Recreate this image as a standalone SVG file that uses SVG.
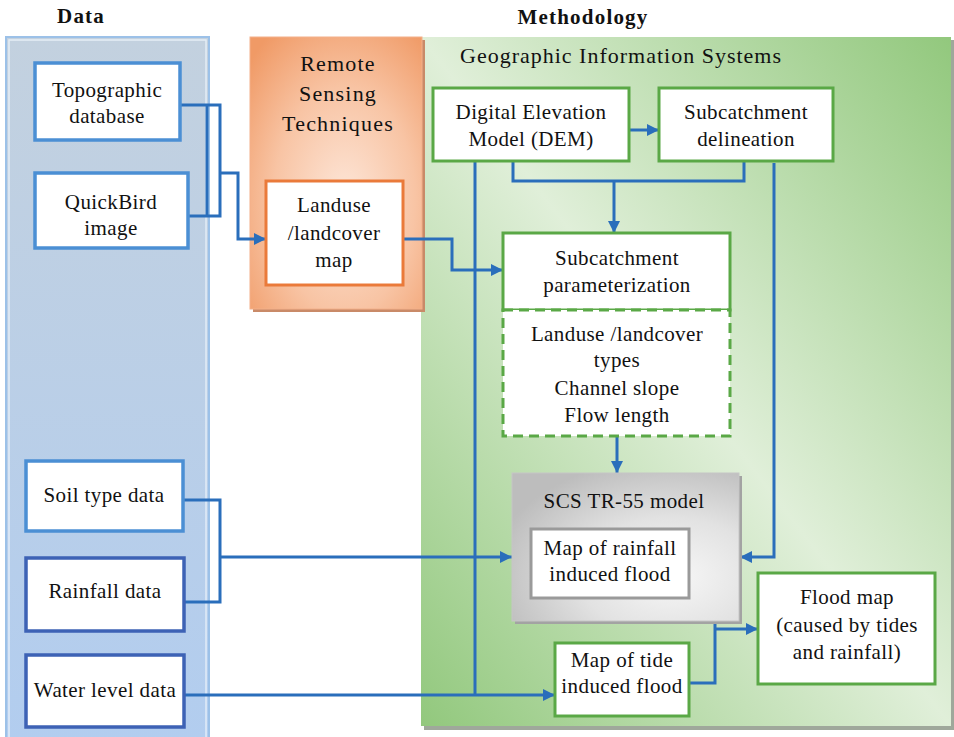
<svg xmlns="http://www.w3.org/2000/svg" width="954" height="737" viewBox="0 0 954 737">
  <defs>
    <linearGradient id="gData" x1="0" y1="0" x2="0" y2="1">
      <stop offset="0" stop-color="#c3d1df"/>
      <stop offset="1" stop-color="#b2cdef"/>
    </linearGradient>
    <radialGradient id="gRs" cx="0.55" cy="0.6" r="0.75">
      <stop offset="0" stop-color="#fde6d8"/>
      <stop offset="0.55" stop-color="#f8c4a4"/>
      <stop offset="1" stop-color="#f09a66"/>
    </radialGradient>
    <linearGradient id="gGis" x1="1" y1="0" x2="0" y2="1">
      <stop offset="0" stop-color="#92c87d"/>
      <stop offset="0.5" stop-color="#e0efd9"/>
      <stop offset="1" stop-color="#92c87d"/>
    </linearGradient>
    <radialGradient id="gScs" cx="0.7" cy="0.7" r="0.8">
      <stop offset="0" stop-color="#f7f7f7"/>
      <stop offset="0.5" stop-color="#e2e2e2"/>
      <stop offset="1" stop-color="#bdbdbd"/>
    </radialGradient>
    <marker id="arr" markerUnits="userSpaceOnUse" markerWidth="14" markerHeight="14" refX="12" refY="6" orient="auto">
      <path d="M0,0 L12,6 L0,12 Z" fill="#2a6ebb"/>
    </marker>
    <style>
      .t { font-family: "Liberation Serif", "Times New Roman", serif; font-size: 21px; letter-spacing: 0.4px; fill: #111; text-anchor: middle; }
      .h { font-family: "Liberation Serif", "Times New Roman", serif; font-size: 21px; font-weight: bold; letter-spacing: 1.2px; fill: #111; text-anchor: middle; }
      .big { font-family: "Liberation Serif", "Times New Roman", serif; font-size: 22px; letter-spacing: 1.2px; fill: #111; }
      .bl { fill: #fff; stroke: #4b8fd4; stroke-width: 3.5; }
      .bd { fill: #fff; stroke: #3d62b5; stroke-width: 3.5; }
      .gr { fill: #fff; stroke: #5aa846; stroke-width: 3; }
      .or { fill: #fff; stroke: #ea7a3a; stroke-width: 3; }
      .c { fill: none; stroke: #2a6ebb; stroke-width: 3; stroke-linejoin: miter; }
      .ca { fill: none; stroke: #2a6ebb; stroke-width: 3; marker-end: url(#arr); }
    </style>
  </defs>

  <rect width="954" height="737" fill="#fff"/>

  <!-- headings -->
  <text class="h" x="81" y="23">Data</text>
  <text class="h" x="583" y="24">Methodology</text>

  <!-- panels -->
  <g id="panel-data">
    <rect x="6" y="37" width="203" height="705" fill="url(#gData)" stroke="#9cc1e8" stroke-width="2"/>
    <rect x="9" y="40" width="197" height="700" fill="none" stroke="#eef4fb" stroke-width="1.5" opacity="0.8"/>
  </g>
  <g id="panel-gis">
    <rect x="424" y="40" width="530" height="690" fill="#9fa89b"/>
    <rect x="421" y="37" width="530" height="689" fill="url(#gGis)"/>
  </g>
  <g id="panel-rs">
    <rect x="253" y="40" width="172" height="272" fill="#c98a68"/>
    <rect x="250" y="37" width="172" height="272" fill="url(#gRs)" stroke="#f3b08a" stroke-width="1"/>
    <text class="big" x="338" y="71" text-anchor="middle">Remote</text>
    <text class="big" x="338" y="101" text-anchor="middle">Sensing</text>
    <text class="big" x="338" y="131" text-anchor="middle">Techniques</text>
  </g>
  <text class="big" x="460" y="63" style="letter-spacing:1px">Geographic Information Systems</text>

  <!-- connectors -->
  <g id="connectors">
    <path class="c" d="M180,105 H220 V216 H185"/>
    <path class="c" d="M207,105 V216"/>
    <path class="ca" d="M220,173 H238 V239 H266"/>
    <path class="ca" d="M403,239 H452 V270 H503"/>
    <path class="ca" d="M629,130 H659"/>
    <path class="c" d="M513,161 V181 H744 V161"/>
    <path class="ca" d="M614,181 V233"/>
    <path class="c" d="M475,161 V695"/>
    <path class="ca" d="M774,163 V557 H740"/>
    <path class="ca" d="M617,436 V473"/>
    <path class="c" d="M183,500 H220 V602 H184"/>
    <path class="ca" d="M220,557 H512"/>
    <path class="ca" d="M184,695 H555"/>
    <path class="c" d="M689,577 H715 V683 H689"/>
    <path class="ca" d="M715,629 H758"/>
  </g>

  <!-- data nodes -->
  <g id="topographic">
    <rect class="bl" x="35" y="63" width="145" height="77"/>
    <text class="t" x="107" y="97">Topographic</text>
    <text class="t" x="107" y="123">database</text>
  </g>
  <g id="quickbird">
    <rect class="bl" x="35" y="173" width="153" height="75"/>
    <text class="t" x="111" y="209">QuickBird</text>
    <text class="t" x="111" y="235">image</text>
  </g>
  <g id="soil">
    <rect class="bl" x="26" y="461" width="157" height="70"/>
    <text class="t" x="104" y="502">Soil type data</text>
  </g>
  <g id="rainfall">
    <rect class="bd" x="26" y="558" width="158" height="73"/>
    <text class="t" x="105" y="598">Rainfall data</text>
  </g>
  <g id="waterlevel">
    <rect class="bd" x="26" y="655" width="158" height="72"/>
    <text class="t" x="105" y="697">Water level data</text>
  </g>

  <!-- remote sensing node -->
  <g id="landuse-map">
    <rect class="or" x="266" y="181" width="137" height="104"/>
    <text class="t" x="334" y="212">Landuse</text>
    <text class="t" x="334" y="240">/landcover</text>
    <text class="t" x="334" y="267">map</text>
  </g>

  <!-- GIS nodes -->
  <g id="dem">
    <rect class="gr" x="433" y="88" width="196" height="73"/>
    <text class="t" x="531" y="119">Digital Elevation</text>
    <text class="t" x="531" y="146">Model (DEM)</text>
  </g>
  <g id="delineation">
    <rect class="gr" x="659" y="88" width="174" height="73"/>
    <text class="t" x="746" y="119">Subcatchment</text>
    <text class="t" x="746" y="146">delineation</text>
  </g>
  <g id="parameterization">
    <rect class="gr" x="503" y="233" width="227" height="77"/>
    <text class="t" x="617" y="265">Subcatchment</text>
    <text class="t" x="617" y="292">parameterization</text>
  </g>
  <g id="parameters">
    <rect x="503" y="310" width="227" height="126" fill="#fff" stroke="#5aa846" stroke-width="3" stroke-dasharray="10,6"/>
    <text class="t" x="617" y="341">Landuse /landcover</text>
    <text class="t" x="617" y="367">types</text>
    <text class="t" x="617" y="395">Channel slope</text>
    <text class="t" x="617" y="422">Flow length</text>
  </g>
  <g id="scs-model">
    <rect x="515" y="476" width="227" height="148" fill="#a3a3a3"/>
    <rect x="512" y="473" width="227" height="148" fill="url(#gScs)" stroke="#c6c6c6" stroke-width="1"/>
    <text class="t" x="624" y="508">SCS TR-55 model</text>
  </g>
  <g id="rainfall-flood">
    <rect x="531" y="529" width="158" height="69" fill="#fff" stroke="#9a9a9a" stroke-width="3"/>
    <text class="t" x="610" y="555">Map of rainfall</text>
    <text class="t" x="610" y="581">induced flood</text>
  </g>
  <g id="tide-flood">
    <rect class="gr" x="555" y="643" width="134" height="73"/>
    <text class="t" x="622" y="667">Map of tide</text>
    <text class="t" x="622" y="693">induced flood</text>
  </g>
  <g id="flood-map">
    <rect class="gr" x="758" y="573" width="177" height="111"/>
    <text class="t" x="847" y="604">Flood map</text>
    <text class="t" x="847" y="632">(caused by tides</text>
    <text class="t" x="847" y="659">and rainfall)</text>
  </g>
</svg>
